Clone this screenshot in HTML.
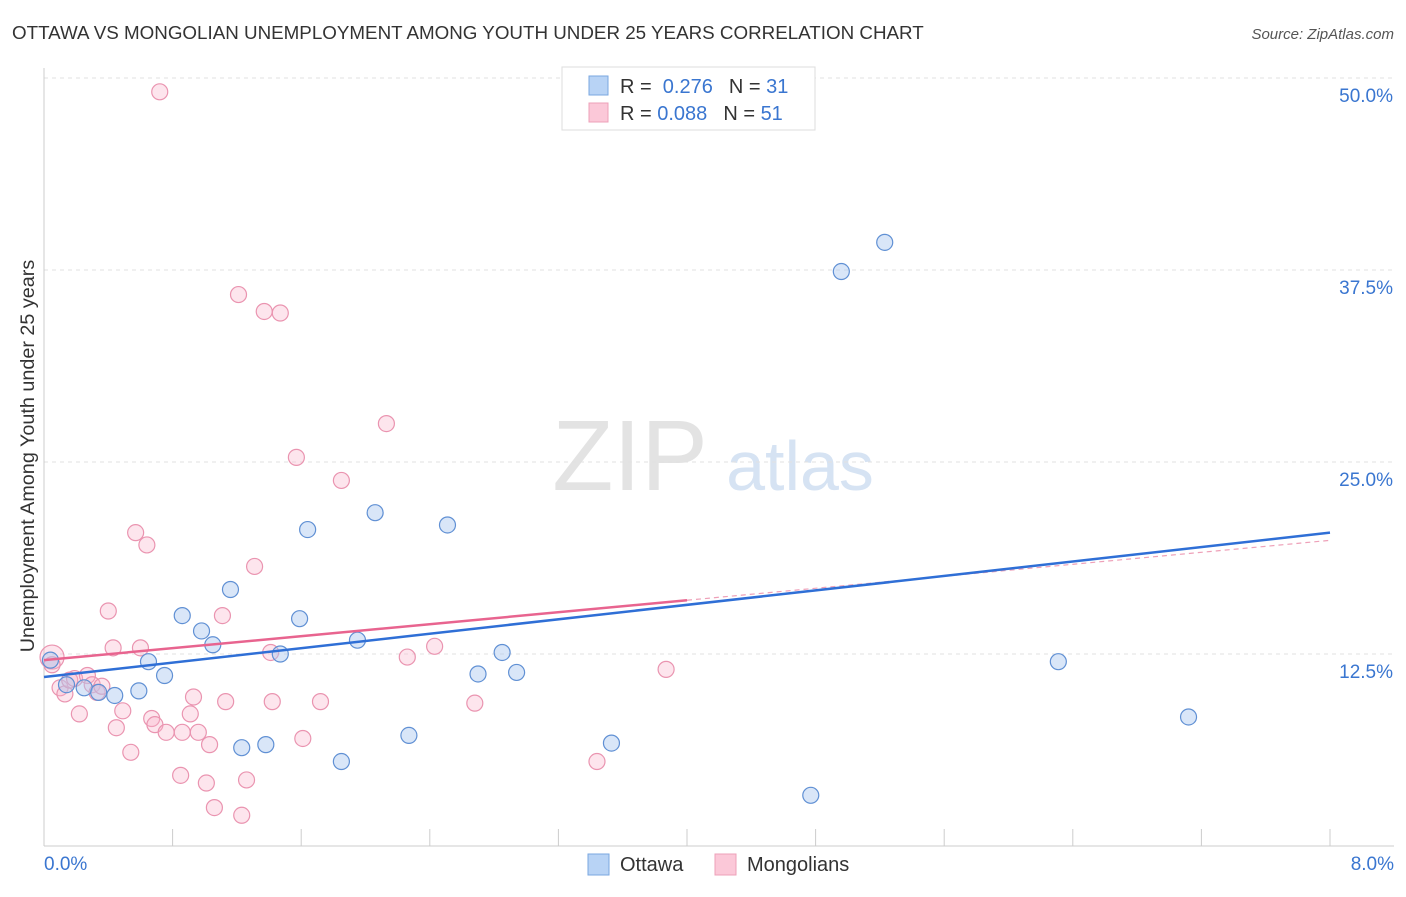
<!DOCTYPE html>
<html><head><meta charset="utf-8"><style>
body{margin:0;background:#fff;font-family:"Liberation Sans",sans-serif;}
svg text{font-family:"Liberation Sans",sans-serif;}
</style></head><body>
<svg id="chart" width="1406" height="892">
<text x="12" y="39" font-size="18.8" fill="#333">OTTAWA VS MONGOLIAN UNEMPLOYMENT AMONG YOUTH UNDER 25 YEARS CORRELATION CHART</text>
<text x="1394" y="39" font-size="15" fill="#555" font-style="italic" text-anchor="end">Source: ZipAtlas.com</text>
<text x="630" y="490" font-size="100" fill="#e3e3e3" font-family="Liberation Serif" text-anchor="middle">ZIP</text>
<text x="800" y="490" font-size="70" fill="#d6e3f3" text-anchor="middle">atlas</text>
<text transform="translate(34,456) rotate(-90)" font-size="19.8" fill="#333" text-anchor="middle">Unemployment Among Youth under 25 years</text>
<g id="grid"></g><g id="marks"></g>
<g>
<rect x="562" y="67" width="253" height="63" fill="#fff" stroke="#ddd"/>
<rect x="589" y="76" width="19" height="19" fill="#b8d3f5" stroke="#7aa7e0"/>
<rect x="589" y="103" width="19" height="19" fill="#fbc8d8" stroke="#eea0b8"/>
<text x="620" y="93" font-size="20" fill="#333">R = <tspan fill="#3a76d0">&#160;0.276</tspan><tspan dx="16">N = </tspan><tspan fill="#3a76d0">31</tspan></text>
<text x="620" y="120" font-size="20" fill="#333">R = <tspan fill="#3a76d0">0.088</tspan><tspan dx="16">N = </tspan><tspan fill="#3a76d0">51</tspan></text>
</g>
<g>
<rect x="588" y="854" width="21" height="21" fill="#b8d3f5" stroke="#7aa7e0"/>
<text x="620" y="871" font-size="20" fill="#333">Ottawa</text>
<rect x="715" y="854" width="21" height="21" fill="#fbc8d8" stroke="#eea0b8"/>
<text x="747" y="871" font-size="20" fill="#333">Mongolians</text>
</g>
</svg>
<script>
const xTickLabels=["0.0%","8.0%"];
const yTicks=[12.5,25.0,37.5,50.0];
const ottawaX=[0.04,0.14,0.25,0.34,0.44,0.59,0.65,0.75,0.86,0.98,1.05,1.16,1.23,1.38,1.47,1.59,1.64,1.85,1.95,2.06,2.27,2.51,2.70,2.85,2.94,3.53,4.77,4.96,5.23,6.31,7.12];
const ottawaY=[12.1,10.5,10.3,10.0,9.8,10.1,12.0,11.1,15.0,14.0,13.1,16.7,6.4,6.6,12.5,14.8,20.6,5.5,13.4,21.7,7.2,20.9,11.2,12.6,11.3,6.7,3.3,37.4,39.3,12.0,8.4];
const mongX=[0.05,0.05,0.10,0.13,0.16,0.19,0.22,0.27,0.30,0.33,0.36,0.40,0.43,0.45,0.49,0.54,0.57,0.60,0.64,0.67,0.69,0.72,0.76,0.85,0.86,0.91,0.93,0.96,1.01,1.03,1.06,1.11,1.13,1.21,1.23,1.26,1.31,1.37,1.41,1.42,1.47,1.57,1.61,1.72,1.85,2.13,2.26,2.43,2.68,3.44,3.87];
const mongY=[12.3,11.8,10.3,9.9,10.8,10.9,8.6,11.1,10.5,10.0,10.4,15.3,12.9,7.7,8.8,6.1,20.4,12.9,19.6,8.3,7.9,49.1,7.4,4.6,7.4,8.6,9.7,7.4,4.1,6.6,2.5,15.0,9.4,35.9,2.0,4.3,18.2,34.8,12.6,9.4,34.7,25.3,7.0,9.4,23.8,27.5,12.3,13.0,9.3,5.5,11.5];
const ottawaTrend=[11.0,20.4];
const mongTrend=[12.1,19.9];
const mongSolidEnd=4.0;

const NS="http://www.w3.org/2000/svg";
const sx=v=>44+v/8*1286;
const sy=v=>846-v/50*768;
function mk(tag,attrs,parent){const e=document.createElementNS(NS,tag);for(const k in attrs)e.setAttribute(k,attrs[k]);parent.appendChild(e);return e;}
const grid=document.getElementById('grid'),marks=document.getElementById('marks');
yTicks.forEach(t=>{
 const l=mk('line',{x1:44,x2:1394,y1:sy(t),y2:sy(t),stroke:'#e2e2e2','stroke-dasharray':'4,4'},grid);
 
 
 const tx=mk('text',{x:1393,y:sy(t)+24,'font-size':19,fill:'#3a76d0','text-anchor':'end'},grid);
 tx.textContent=t.toFixed(1)+'%';
 
 
});
mk('line',{x1:44,x2:44,y1:68,y2:846,stroke:'#ccc'},grid);
mk('line',{x1:44,x2:1394,y1:846,y2:846,stroke:'#ccc'},grid);
for(let i=0;i<=10;i++){const x=sx(i*0.8);const tk=mk('line',{x1:x,x2:x,y1:829,y2:846,stroke:'#ccc'},grid);
 
 }
[[0,'start',44],[1,'end',1394]].forEach(([i,a,x])=>{const t=mk('text',{x:x,y:870,'font-size':19,fill:'#3a76d0','text-anchor':a},grid);t.textContent=xTickLabels[i];
 
 });
const lerp=(tr,x)=>tr[0]+(tr[1]-tr[0])*x/8;
mongX.forEach((x,i)=>{const c=mk('circle',{cx:sx(x),cy:sy(mongY[i]),r:i==0?12:8,fill:'rgba(248,180,202,0.35)',stroke:'#ea94b0','stroke-width':1.2},marks);
 
 });
ottawaX.forEach((x,i)=>{const c=mk('circle',{cx:sx(x),cy:sy(ottawaY[i]),r:8,fill:'rgba(170,200,240,0.45)',stroke:'#6090d4','stroke-width':1.2},marks);
 
 });
const md=mk('line',{x1:sx(mongSolidEnd),y1:sy(lerp(mongTrend,mongSolidEnd)),x2:sx(8),y2:sy(lerp(mongTrend,8)),stroke:'#eea0b8','stroke-width':1.2,'stroke-dasharray':'5,4'},marks);


const ob=mk('line',{x1:sx(0),y1:sy(lerp(ottawaTrend,0)),x2:sx(8),y2:sy(lerp(ottawaTrend,8)),stroke:'#2f6fd6','stroke-width':2.5},marks);


const ms=mk('line',{x1:sx(0),y1:sy(lerp(mongTrend,0)),x2:sx(mongSolidEnd),y2:sy(lerp(mongTrend,mongSolidEnd)),stroke:'#e8648f','stroke-width':2.5},marks);


</script>
</body></html>
